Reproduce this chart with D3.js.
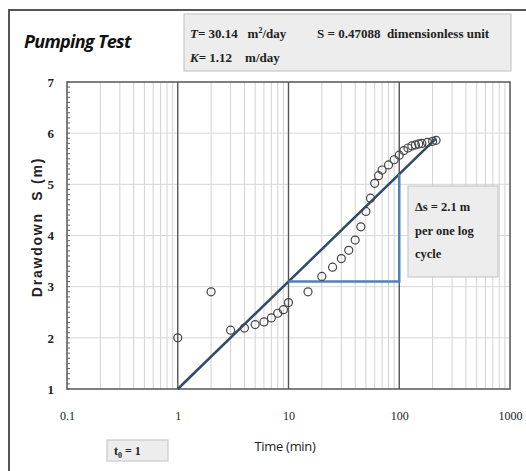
<!DOCTYPE html>
<html>
<head>
<meta charset="utf-8">
<script src="https://cdn.jsdelivr.net/npm/d3@7"></script>
<style>
  html, body { margin: 0; padding: 0; background: #fff; }
  svg { display: block; }
  svg text { white-space: pre; }
</style>
</head>
<body>
<svg id="chart" width="526" height="471"></svg>
<script>
// Pumping test observations: time since pumping started (min) and drawdown (m)
const times = [1, 2, 3, 4, 5, 6, 7, 8, 9, 10, 15, 20, 25, 30, 35, 40, 45, 50, 55, 60,
               65, 70, 80, 90, 100, 110, 120, 130, 140, 150, 160, 180, 200, 215];
const drawdowns = [2.0, 2.9, 2.15, 2.19, 2.26, 2.31, 2.39, 2.48, 2.55, 2.69, 2.9, 3.2, 3.38, 3.55, 3.71, 3.91, 4.17, 4.47, 4.73, 5.02,
                   5.17, 5.28, 5.38, 5.48, 5.57, 5.66, 5.71, 5.75, 5.77, 5.79, 5.8, 5.82, 5.84, 5.86];

// Straight-line (Cooper-Jacob) fit: s = 1 + 2.1 log10(t)
const fitTimes = [1, 215];
const fitSlope = 2.1;      // drawdown per log cycle (m)
const fitIntercept = 1.0;  // drawdown at t = 1 min

// Slope triangle across one log cycle
const cycleTimes = [10, 100];

const xTickValues = [0.1, 1, 10, 100, 1000];
const xTickLabels = ["0.1", "1", "10", "100", "1000"];
const yTickValues = [1, 2, 3, 4, 5, 6, 7];

const svg = d3.select("#chart");

const x = d3.scaleLog().domain([0.1, 1000]).range([67, 510]);
const y = d3.scaleLinear().domain([1, 7]).range([389, 82]);

const fitS = t => fitIntercept + fitSlope * Math.log10(t);

// outer frame
svg.append("rect")
  .attr("x", 9).attr("y", 10).attr("width", 700).attr("height", 700)
  .attr("fill", "#fff").attr("stroke", "#555").attr("stroke-width", 2);

// minor vertical grid lines (2..9 in each decade)
const minorX = [];
const majorX = [];
for (let e = -1; e <= 2; e++) {
  for (let k = 1; k <= 9; k++) {
    const v = k * Math.pow(10, e);
    if (k === 1) majorX.push(v); else minorX.push(v);
  }
}
majorX.push(1000);

const grid = svg.append("g");
grid.selectAll("line.minor").data(minorX).join("line")
  .attr("class", "minor")
  .attr("x1", d => x(d)).attr("x2", d => x(d))
  .attr("y1", y(7)).attr("y2", y(1))
  .attr("stroke", "#d2d2d2").attr("stroke-width", 1);

// horizontal grid lines at whole metres
grid.selectAll("line.h").data(yTickValues.slice(1, -1)).join("line")
  .attr("class", "h")
  .attr("x1", x(0.1)).attr("x2", x(1000))
  .attr("y1", d => y(d)).attr("y2", d => y(d))
  .attr("stroke", "#d8d8d8").attr("stroke-width", 1);

// decade lines
grid.selectAll("line.major").data(majorX.filter(d => d > 0.1 && d < 1000)).join("line")
  .attr("class", "major")
  .attr("x1", d => x(d)).attr("x2", d => x(d))
  .attr("y1", y(7)).attr("y2", y(1))
  .attr("stroke", "#555").attr("stroke-width", 1.4);

// plot border
svg.append("rect")
  .attr("x", x(0.1)).attr("y", y(7))
  .attr("width", x(1000) - x(0.1)).attr("height", y(1) - y(7))
  .attr("fill", "none").attr("stroke", "#555").attr("stroke-width", 1.5);

// minor y ticks every 0.1 m
const yMinor = d3.range(10, 71).map(v => v / 10);
svg.append("g").selectAll("line").data(yMinor).join("line")
  .attr("x1", x(0.1)).attr("x2", x(0.1) + 3)
  .attr("y1", d => y(d)).attr("y2", d => y(d))
  .attr("stroke", "#666").attr("stroke-width", 1);

// axes labels
const xAxis = d3.axisBottom(x)
  .tickValues(xTickValues)
  .tickFormat((d, i) => xTickLabels[i])
  .tickSize(0).tickPadding(22);
const gx = svg.append("g").attr("transform", `translate(0,${y(1)})`).call(xAxis);
gx.select(".domain").remove();
gx.selectAll("text")
  .attr("font-family", "Liberation Serif, serif")
  .attr("font-size", 12).attr("fill", "#222");

const yAxis = d3.axisLeft(y).tickValues(yTickValues).tickFormat(d3.format("d"))
  .tickSize(0).tickPadding(13);
const gy = svg.append("g").attr("transform", `translate(${x(0.1)},0)`).call(yAxis);
gy.select(".domain").remove();
gy.selectAll("text")
  .attr("font-family", "Liberation Serif, serif")
  .attr("font-size", 13).attr("font-weight", "bold").attr("fill", "#222");

// fitted straight line
svg.append("line")
  .attr("x1", x(fitTimes[0])).attr("y1", y(fitS(fitTimes[0])))
  .attr("x2", x(fitTimes[1])).attr("y2", y(fitS(fitTimes[1])))
  .attr("stroke", "#2f4b69").attr("stroke-width", 2.5);

// slope triangle over one log cycle
const s0 = fitS(cycleTimes[0]);
const s1 = fitS(cycleTimes[1]);
svg.append("path")
  .attr("d", d3.line()([
    [x(cycleTimes[0]), y(s0)],
    [x(cycleTimes[1]), y(s0)],
    [x(cycleTimes[1]), y(s1)]
  ]))
  .attr("fill", "none").attr("stroke", "#4f81bd").attr("stroke-width", 2.5);

// observed drawdowns
svg.append("g").selectAll("circle").data(times).join("circle")
  .attr("cx", d => x(d))
  .attr("cy", (d, i) => y(drawdowns[i]))
  .attr("r", 4)
  .attr("fill", "none").attr("stroke", "#444").attr("stroke-width", 1.2);

// title
svg.append("text")
  .attr("x", 24).attr("y", 48)
  .attr("font-family", "Open Sans, sans-serif")
  .attr("font-size", 18).attr("font-weight", "bold").attr("font-style", "italic")
  .attr("letter-spacing", -0.7)
  .attr("fill", "#111")
  .text("Pumping Test");

// parameter box
svg.append("rect")
  .attr("x", 184).attr("y", 14).attr("width", 327).attr("height", 57)
  .attr("fill", "#ededed").attr("stroke", "#c8c8c8").attr("stroke-width", 1.2);

const serif = "Liberation Serif, serif";
const t1 = svg.append("text").attr("x", 190).attr("y", 38)
  .attr("font-family", serif).attr("font-size", 13).attr("font-weight", "bold").attr("fill", "#222");
t1.append("tspan").attr("font-style", "italic").text("T");
t1.append("tspan").text("= 30.14   m");
t1.append("tspan").attr("font-size", 8).attr("dy", -5).text("2");
t1.append("tspan").attr("dy", 5).text("/day");

svg.append("text").attr("x", 317).attr("y", 38)
  .attr("font-family", serif).attr("font-size", 13).attr("font-weight", "bold").attr("fill", "#222")
  .text("S = 0.47088  dimensionless unit");

const t2 = svg.append("text").attr("x", 190).attr("y", 62)
  .attr("font-family", serif).attr("font-size", 13).attr("font-weight", "bold").attr("fill", "#222");
t2.append("tspan").attr("font-style", "italic").text("K");
t2.append("tspan").text("= 1.12    m/day");

// slope annotation box
svg.append("rect")
  .attr("x", 408).attr("y", 186).attr("width", 90).attr("height", 91)
  .attr("fill", "#ededed").attr("stroke", "#c8c8c8").attr("stroke-width", 1.2);
const noteLines = ["\u0394s = 2.1 m", "per one log", "cycle"];
svg.append("g").selectAll("text").data(noteLines).join("text")
  .attr("x", 415).attr("y", (d, i) => 211 + i * 23.5)
  .attr("font-family", serif).attr("font-size", 12.5).attr("font-weight", "bold").attr("fill", "#222")
  .text(d => d);

// t0 box
svg.append("rect")
  .attr("x", 107).attr("y", 440).attr("width", 61).attr("height", 21)
  .attr("fill", "#ededed").attr("stroke", "#c8c8c8").attr("stroke-width", 1.2);
const t0 = svg.append("text").attr("x", 114).attr("y", 455)
  .attr("font-family", serif).attr("font-size", 12).attr("font-weight", "bold").attr("fill", "#222");
t0.append("tspan").text("t");
t0.append("tspan").attr("font-size", 8).attr("dy", 3).text("0");
t0.append("tspan").attr("dy", -3).text(" = 1");

// axis titles
svg.append("text")
  .attr("x", 285).attr("y", 451).attr("text-anchor", "middle")
  .attr("font-family", "Open Sans, sans-serif").attr("font-size", 13).attr("fill", "#222")
  .attr("letter-spacing", -0.3)
  .text("Time (min)");

svg.append("text")
  .attr("transform", "translate(42,227) rotate(-90)")
  .attr("text-anchor", "middle")
  .attr("font-family", "Liberation Sans, sans-serif").attr("font-size", 14).attr("font-weight", "bold")
  .attr("letter-spacing", 1.8).attr("fill", "#222")
  .text("Drawdown  S (m)");
</script>
</body>
</html>
